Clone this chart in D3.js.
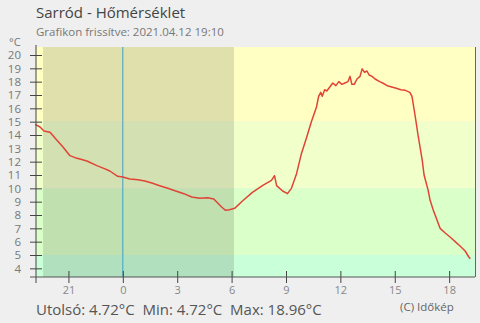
<!DOCTYPE html>
<html>
<head>
<meta charset="utf-8">
<script src="https://cdn.jsdelivr.net/npm/d3@7/dist/d3.min.js"></script>
<style>
body{margin:0;background:#efefef;}
svg{display:block;font-family:"Open Sans",sans-serif;}
</style>
</head>
<body>
<script>
//CHART DATA
var title = "Sarród - Hőmérséklet";
var subtitle = "Grafikon frissítve: 2021.04.12 19:10";
var footer = "Utolsó: 4.72°C  Min: 4.72°C  Max: 18.96°C";
var credit = "(C) Időkép";

var times = [
	"2021-04-11 19:10","2021-04-11 19:26","2021-04-11 19:39","2021-04-11 19:59","2021-04-11 20:22",
	"2021-04-11 20:42","2021-04-11 21:05","2021-04-11 21:22","2021-04-11 21:38","2021-04-11 22:01",
	"2021-04-11 22:34","2021-04-11 22:57","2021-04-11 23:17","2021-04-11 23:43","2021-04-12 00:00",
	"2021-04-12 00:23","2021-04-12 00:50","2021-04-12 01:13","2021-04-12 01:36","2021-04-12 02:02",
	"2021-04-12 02:29","2021-04-12 02:55","2021-04-12 03:22","2021-04-12 03:48","2021-04-12 04:14",
	"2021-04-12 04:41","2021-04-12 05:01","2021-04-12 05:14","2021-04-12 05:27","2021-04-12 05:40",
	"2021-04-12 05:53","2021-04-12 06:10","2021-04-12 06:36","2021-04-12 07:09","2021-04-12 07:42",
	"2021-04-12 08:12","2021-04-12 08:22","2021-04-12 08:29","2021-04-12 08:49","2021-04-12 09:05",
	"2021-04-12 09:18","2021-04-12 09:35","2021-04-12 09:51","2021-04-12 10:08","2021-04-12 10:24",
	"2021-04-12 10:41","2021-04-12 10:48","2021-04-12 10:55","2021-04-12 11:00","2021-04-12 11:08",
	"2021-04-12 11:15","2021-04-12 11:25","2021-04-12 11:35","2021-04-12 11:45","2021-04-12 11:55",
	"2021-04-12 12:05","2021-04-12 12:15","2021-04-12 12:25","2021-04-12 12:32","2021-04-12 12:38",
	"2021-04-12 12:46","2021-04-12 12:55","2021-04-12 13:05","2021-04-12 13:12","2021-04-12 13:20",
	"2021-04-12 13:28","2021-04-12 13:35","2021-04-12 13:45","2021-04-12 13:55","2021-04-12 14:10",
	"2021-04-12 14:20","2021-04-12 14:35","2021-04-12 14:50","2021-04-12 15:05","2021-04-12 15:20",
	"2021-04-12 15:35","2021-04-12 15:50","2021-04-12 15:57","2021-04-12 16:07","2021-04-12 16:17",
	"2021-04-12 16:31","2021-04-12 16:37","2021-04-12 16:50","2021-04-12 16:57","2021-04-12 17:07",
	"2021-04-12 17:30","2021-04-12 17:47","2021-04-12 18:03","2021-04-12 18:30","2021-04-12 18:53",
	"2021-04-12 19:05","2021-04-12 19:10"
];
var temps = [
	14.8,14.6,14.3,14.2,13.6,
	13.1,12.45,12.3,12.2,12.05,
	11.7,11.5,11.3,10.9,10.85,
	10.7,10.65,10.55,10.4,10.2,
	10.0,9.8,9.6,9.35,9.25,
	9.3,9.2,8.9,8.6,8.35,
	8.4,8.5,9.05,9.7,10.2,
	10.6,10.95,10.2,9.8,9.6,
	10.0,11.1,12.6,13.8,15.0,
	16.1,16.9,17.2,16.9,17.4,
	17.3,17.6,17.9,17.7,18.0,
	17.8,17.9,18.0,18.4,17.8,
	17.8,18.2,18.4,18.96,18.7,
	18.8,18.5,18.4,18.2,18.0,
	17.9,17.7,17.6,17.5,17.4,
	17.35,17.2,16.9,15.5,14.0,
	12.1,11.0,9.9,9.1,8.4,
	7.0,6.65,6.35,5.8,5.3,
	4.85,4.72
];

//BACKGROUND BANDS (temperature limits) AND NIGHT PERIOD
var bandLimits = [20.6, 15, 10, 5, 3.35];
var bandColors = ["#ffffc4", "#f1ffcb", "#dbffc9", "#c9ffd9"];
var night = ["2021-04-11 19:36", "2021-04-12 06:08"];
var midnight = "2021-04-12 00:00";

var yTicks = [4,5,6,7,8,9,10,11,12,13,14,15,16,17,18,19,20];
var xTicks = ["2021-04-11 21:00","2021-04-12 00:00","2021-04-12 03:00","2021-04-12 06:00",
	"2021-04-12 09:00","2021-04-12 12:00","2021-04-12 15:00","2021-04-12 18:00"];

//Screen properties
var width = 480, height = 323;
var plotLeft = 36, plotRight = 475, plotTop = 47, plotBottom = 277;

var parse = d3.timeParse("%Y-%m-%d %H:%M");
var data = times.map(function(t, i){ return {t: parse(t), v: temps[i]}; });

var x = d3.scaleTime()
	.domain([parse(times[0]), parse(times[times.length-1])])
	.range([35.2, 470.3]);
var y = d3.scaleLinear()
	.domain([bandLimits[bandLimits.length-1], bandLimits[0]])
	.range([plotBottom, plotTop]);

var svg = d3.select("body").append("svg")
	.attr("width", width)
	.attr("height", height);

//BANDS
for(var i = 0; i < bandColors.length; i++){
	svg.append("rect")
		.attr("x", plotLeft)
		.attr("y", y(bandLimits[i]))
		.attr("width", plotRight - plotLeft)
		.attr("height", y(bandLimits[i+1]) - y(bandLimits[i]))
		.attr("fill", bandColors[i]);
}

//NIGHT SHADE
svg.append("rect")
	.attr("x", x(parse(night[0])))
	.attr("y", plotTop)
	.attr("width", x(parse(night[1])) - x(parse(night[0])))
	.attr("height", plotBottom - plotTop)
	.attr("fill", "#000")
	.attr("fill-opacity", 0.12);

//MIDNIGHT LINE
svg.append("line")
	.attr("x1", x(parse(midnight))).attr("x2", x(parse(midnight)))
	.attr("y1", plotTop).attr("y2", plotBottom)
	.attr("stroke", "#3f9fc8")
	.attr("stroke-width", 1);

//TEMPERATURE LINE
var line = d3.line()
	.x(function(d){ return x(d.t); })
	.y(function(d){ return y(d.v); });
svg.append("path")
	.datum(data)
	.attr("d", line)
	.attr("fill", "none")
	.attr("stroke", "#e04436")
	.attr("stroke-width", 1.5)
	.attr("stroke-linejoin", "round");

//AXES
var yAxis = svg.append("g")
	.attr("transform", "translate(" + plotLeft + ",0)")
	.call(d3.axisLeft(y).tickValues(yTicks).tickSize(6).tickPadding(9));
yAxis.select(".domain").remove();
yAxis.selectAll(".tick line").attr("x1", 6).attr("stroke", "#444");
yAxis.selectAll(".tick text")
	.attr("fill", "#777")
	.style("font-size", "11.5px")
	.style("font-family", "Open Sans, sans-serif");

var xAxis = svg.append("g")
	.attr("transform", "translate(0," + plotBottom + ")")
	.call(d3.axisBottom(x).tickValues(xTicks.map(parse)).tickFormat(d3.timeFormat("%-H")).tickSize(6).tickPadding(3));
xAxis.select(".domain").remove();
xAxis.selectAll(".tick line").attr("y1", -6).attr("stroke", "#444");
xAxis.selectAll(".tick text")
	.attr("fill", "#888")
	.style("font-size", "11px")
	.style("font-family", "Open Sans, sans-serif");

svg.append("line")
	.attr("x1", plotLeft).attr("x2", plotLeft)
	.attr("y1", plotTop - 2).attr("y2", plotBottom + 6)
	.attr("stroke", "#444");
svg.append("line")
	.attr("x1", plotLeft - 6).attr("x2", plotRight)
	.attr("y1", plotBottom).attr("y2", plotBottom)
	.attr("stroke", "#555");
svg.append("line")
	.attr("x1", plotRight + 0.5).attr("x2", plotRight + 0.5)
	.attr("y1", plotTop).attr("y2", plotBottom)
	.attr("stroke", "#666");

//TEXTS
svg.append("text").attr("x", 9).attr("y", 46)
	.attr("fill", "#777").style("font-size", "11px").text("°C");
svg.append("text").attr("x", 36).attr("y", 18)
	.attr("fill", "#444").style("font-size", "15px").text(title);
svg.append("text").attr("x", 36).attr("y", 36)
	.attr("fill", "#777").style("font-size", "11.5px").text(subtitle);
svg.append("text").attr("x", 36).attr("y", 315)
	.attr("fill", "#555").style("font-size", "15px")
	.attr("xml:space", "preserve").style("white-space", "pre").text(footer);
svg.append("text").attr("x", 400).attr("y", 311)
	.attr("fill", "#666").style("font-size", "11.5px").text(credit);
</script>
</body>
</html>
